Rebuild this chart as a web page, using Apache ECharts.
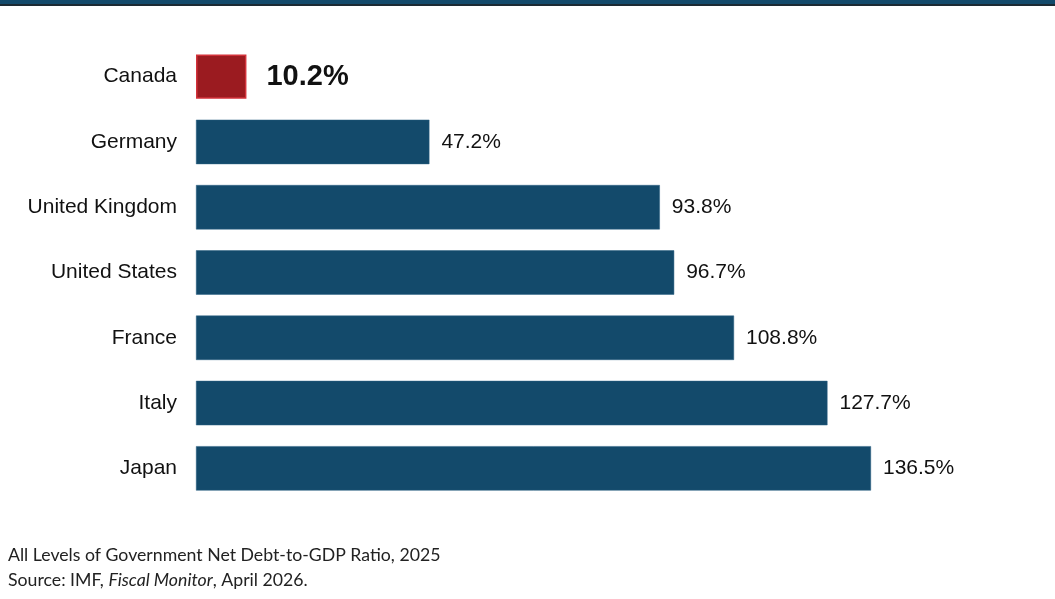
<!DOCTYPE html>
<html><head><meta charset="utf-8">
<script src="https://cdn.jsdelivr.net/npm/echarts@6/dist/echarts.min.js"></script>
<style>html,body{margin:0;padding:0;background:#fff}#c{width:1055px;height:599px}</style>
</head><body><div id="c"></div>
<script>
const countries = ['Canada','Germany','United Kingdom','United States','France','Italy','Japan'];
const debtRatio = [10.2, 47.2, 93.8, 96.7, 108.8, 127.7, 136.5];
const highlight = 'Canada';
const footerLines = ['All Levels of Government Net Debt-to-GDP Ratio, 2025'];

const chart = echarts.init(document.getElementById('c'));
const data = debtRatio.map((v, i) => {
  const isHi = countries[i] === highlight;
  return {
    value: v,
    itemStyle: isHi ? {color: '#9b1b20', borderColor: '#d2323a', borderWidth: 1.5} : {color: '#134a6b', borderColor: '#2a6083', borderWidth: 0.5},
    label: isHi ? {fontSize: 29, fontWeight: 'bold', color: '#111', distance: 20} : {}
  };
});
chart.setOption({
  animation: false,
  backgroundColor: '#fff',
  grid: {left: 196, top: 44, width: 791.2, height: 457, containLabel: false},
  xAxis: {type: 'value', min: 0, max: 160, show: false},
  yAxis: {
    type: 'category', data: countries, inverse: true,
    axisLine: {show: false}, axisTick: {show: false},
    axisLabel: {margin: 19, fontSize: 21, color: '#111', fontFamily: 'Liberation Sans, Arial, sans-serif'}
  },
  series: [{
    type: 'bar', data: data, barWidth: '68%',
    label: {show: true, position: 'right', distance: 12, fontSize: 21, color: '#111',
      fontFamily: 'Liberation Sans, Arial, sans-serif',
      formatter: p => p.value.toFixed(1) + '%'}
  }],
  graphic: [
    {type: 'rect', left: 0, top: 0, shape: {width: 1055, height: 4}, style: {fill: '#134a6b'}},
    {type: 'rect', left: 0, top: 4, shape: {width: 1055, height: 2}, style: {fill: '#1c2a33'}},
    {type: 'text', left: 8, top: 546, style: {text: footerLines[0], font: '17.7px Lato, sans-serif', fill: '#222'}},
    {type: 'text', left: 8, top: 571, style: {
      rich: {n: {font: '17.7px Lato, sans-serif', fill: '#222'}, i: {font: 'italic 17.7px Lato, sans-serif', fill: '#222'}},
      text: '{n|Source: IMF, }{i|Fiscal Monitor}{n|, April 2026.}'}}
  ]
});
</script></body></html>
